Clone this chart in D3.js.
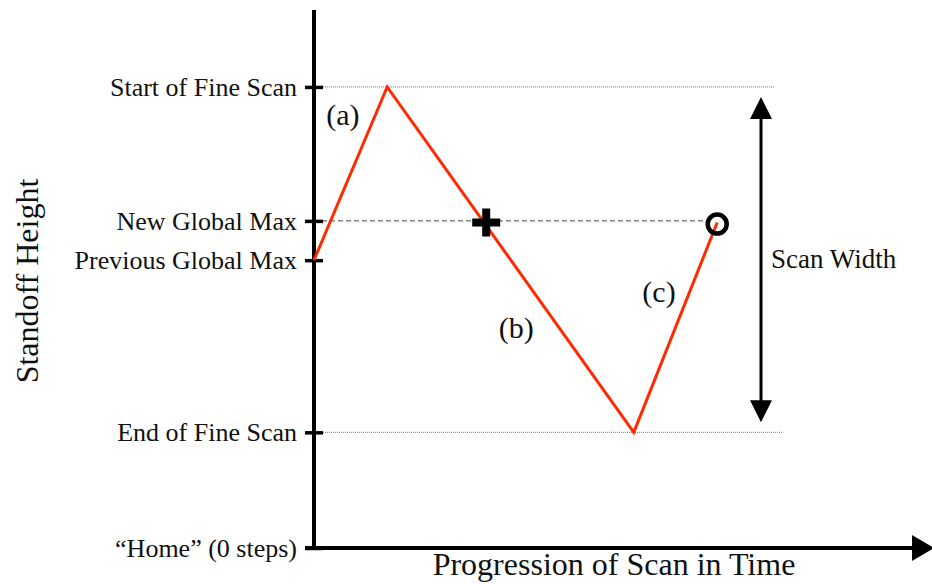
<!DOCTYPE html>
<html>
<head>
<meta charset="utf-8">
<script src="https://cdn.jsdelivr.net/npm/d3@7"></script>
<style>
  body { margin: 0; background: #fff; }
  svg { display: block; font-family: "Liberation Serif", "Times New Roman", serif; }
</style>
</head>
<body>
<div id="chart"></div>
<script>
// standoff levels (arbitrary step units) and their labels
const levelNames = ["\u201cHome\u201d (0 steps)", "End of Fine Scan", "Previous Global Max", "New Global Max", "Start of Fine Scan"];
const levelValues = [0, 2.15, 5.35, 6.08, 8.57];

// scan path: time vs height
const scanTime = [0, 1.22, 5.33, 6.72];
const scanHeight = [5.35, 8.57, 2.15, 6.05];

// markers
const crossPoint = [2.87, 6.05];
const circlePoint = [6.72, 6.02];

// segment labels
const segLabels = ["(a)", "(b)", "(c)"];
const segLabelTime = [0.48, 3.37, 5.75];
const segLabelHeight = [8.05, 4.1, 4.76];

const width = 932, height = 584;
const x0 = 314, yBottom = 548;

const svg = d3.select("#chart").append("svg")
    .attr("width", width)
    .attr("height", height);

const x = d3.scaleLinear().domain([0, 10]).range([x0, 914]);
const y = d3.scaleLinear().domain([0, 10]).range([yBottom, 10]);

// guide lines at start / end of scan
svg.append("line")
    .attr("x1", x(0.15)).attr("x2", x(7.68))
    .attr("y1", y(levelValues[4])).attr("y2", y(levelValues[4]))
    .attr("stroke", "#777").attr("stroke-width", 1).attr("stroke-dasharray", "1,1");
svg.append("line")
    .attr("x1", x(0.15)).attr("x2", x(7.82))
    .attr("y1", y(levelValues[1])).attr("y2", y(levelValues[1]))
    .attr("stroke", "#777").attr("stroke-width", 1).attr("stroke-dasharray", "1,1");

// new global max dashed line
svg.append("line")
    .attr("x1", x(0)).attr("x2", x(6.6))
    .attr("y1", y(levelValues[3])).attr("y2", y(levelValues[3]))
    .attr("stroke", "#444").attr("stroke-width", 1).attr("stroke-dasharray", "5,3");

// y axis
const yAxis = d3.axisLeft(y)
    .tickValues(levelValues)
    .tickFormat((d, i) => levelNames[i])
    .tickSize(9)
    .tickPadding(8);

svg.append("g")
    .attr("transform", "translate(" + x0 + ",0)")
    .call(yAxis)
    .attr("font-family", null)
    .attr("font-size", null)
    .call(g => g.select(".domain").remove())
    .call(g => g.selectAll(".tick line").attr("x1", 9).attr("x2", -9)
        .attr("stroke", "#000").attr("stroke-width", 3.5))
    .call(g => g.selectAll(".tick text")
        .style("font-family", "'Liberation Serif', serif")
        .style("font-size", "26px").attr("fill", "#111"));

// axis lines
svg.append("line")
    .attr("x1", x0).attr("x2", x0)
    .attr("y1", y(10)).attr("y2", yBottom + 2)
    .attr("stroke", "#000").attr("stroke-width", 4);
svg.append("line")
    .attr("x1", 305).attr("x2", 915)
    .attr("y1", yBottom).attr("y2", yBottom)
    .attr("stroke", "#000").attr("stroke-width", 4);
svg.append("path")
    .attr("d", "M912," + (yBottom - 13) + "L934," + yBottom + "L912," + (yBottom + 13) + "Z")
    .attr("fill", "#000");

// scan path
const line = d3.line()
    .x(d => x(d[0]))
    .y(d => y(d[1]));

svg.append("path")
    .datum(scanTime.map((t, i) => [t, scanHeight[i]]))
    .attr("d", line)
    .attr("fill", "none")
    .attr("stroke", "#ff2a00")
    .attr("stroke-width", 3);

// cross marker
const cx = x(crossPoint[0]), cy = y(crossPoint[1]);
svg.append("path")
    .attr("d", `M${cx - 14},${cy}H${cx + 14}M${cx},${cy - 14}V${cy + 14}`)
    .attr("stroke", "#000").attr("stroke-width", 8);

// circle marker
svg.append("circle")
    .attr("cx", x(circlePoint[0]))
    .attr("cy", y(circlePoint[1]))
    .attr("r", 9.5)
    .attr("fill", "none")
    .attr("stroke", "#000")
    .attr("stroke-width", 4.5);

// scan width arrow
const ax = x(7.45);
const yTop = y(levelValues[4]) + 10, yBot = y(levelValues[1]) - 10;
svg.append("line")
    .attr("x1", ax).attr("x2", ax)
    .attr("y1", yTop + 20).attr("y2", yBot - 20)
    .attr("stroke", "#000").attr("stroke-width", 3);
svg.append("path")
    .attr("d", `M${ax},${yTop}L${ax + 11},${yTop + 22}L${ax - 11},${yTop + 22}Z`)
    .attr("fill", "#000");
svg.append("path")
    .attr("d", `M${ax},${yBot}L${ax + 11},${yBot - 22}L${ax - 11},${yBot - 22}Z`)
    .attr("fill", "#000");
svg.append("text")
    .attr("x", ax + 10)
    .attr("y", y(levelValues[2]) + 8)
    .attr("font-size", 27)
    .attr("fill", "#111")
    .text("Scan Width");

// segment labels
svg.selectAll(".seg")
    .data(segLabels)
    .enter()
    .append("text")
    .attr("class", "seg")
    .attr("x", (d, i) => x(segLabelTime[i]))
    .attr("y", (d, i) => y(segLabelHeight[i]))
    .attr("text-anchor", "middle")
    .attr("dominant-baseline", "central")
    .attr("font-size", 30)
    .attr("fill", "#111")
    .text(d => d);

// axis titles
svg.append("text")
    .attr("x", 614)
    .attr("y", 575)
    .attr("text-anchor", "middle")
    .attr("font-size", 32)
    .attr("fill", "#111")
    .text("Progression of Scan in Time");

svg.append("text")
    .attr("transform", "translate(38,281) rotate(-90)")
    .attr("text-anchor", "middle")
    .attr("font-size", 32)
    .attr("fill", "#111")
    .text("Standoff Height");
</script>
</body>
</html>
